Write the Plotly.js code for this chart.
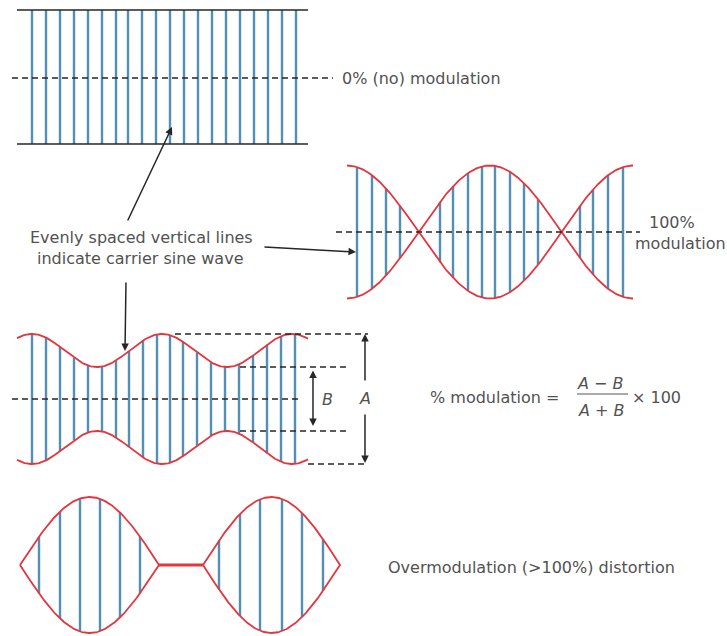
<!DOCTYPE html>
<html><head><meta charset="utf-8">
<script src="https://cdn.plot.ly/plotly-3.0.1.min.js"></script>
<style>html,body{margin:0;padding:0;background:#fff}</style>
</head><body>
<div id="chart" style="width:727px;height:636px"></div>
<script>
// ---------- data ----------
// Panel 1: unmodulated carrier (0%)
const unmodCarrierX = [32,46,60,74,88,102,116,128,142,156,170,184,198,212,226,240,254,268,282,296];
const unmodSpan = [17, 308];
const unmodLevels = [10, 78, 144];           // top, centre, bottom

// Panel 2: 100% modulation
const fullCarrierX = [357,372,386,400,440,453,468,482,495,510,524,538,580,593,608,623];
const fullSpan = [347, 633];
const fullEnvelope = [232, 66.5, 143];        // centre, peak amplitude, half period

// Panel 3: partial modulation, A and B
const partCarrierX = [32,46,60,74,88,102,116,129,143,157,170,183,197,211,225,239,253,267,281,295];
const partSpan = [17, 308];
const partEnvelope = [399, 65, 32, 32, 130]; // centre, A, B, x of a peak, period

// Panel 4: overmodulation
const overCarrierX = [39,60,80,100,120,140,219,240,260,282,302,323];
const overLobes = [[20,159],[203,340]];
const overEnvelope = [565, 68];               // centre, amplitude

// ---------- styles ----------
const FONT = 'DejaVu Sans';
const TXT = '#525252';
const RED = '#e2363f';
const BLUE = '#2c6d96';
const HALO = '#bcdcec';
const INK = '#262626';
const FS = 16;

// ---------- envelope helpers ----------
const fullEnv = x => fullEnvelope[1] * Math.cos(Math.PI * (x - fullSpan[0]) / fullEnvelope[2]);
const partEnv = x => {
  const [c, A, B, px, per] = partEnvelope;
  return (A + B) / 2 + (A - B) / 2 * Math.cos(2 * Math.PI * (x - px) / per);
};
const overEnv = (x, lobe) => overEnvelope[1] * Math.sin(Math.PI * (x - lobe[0]) / (lobe[1] - lobe[0]));

function range(a, b, step) { const r = []; for (let v = a; v <= b + 1e-9; v += step) r.push(v); if (r[r.length-1] < b) r.push(b); return r; }

// vertical carrier lines
const vx = [], vy = [];
function addV(x, y0, y1) { vx.push(x, x, null); vy.push(y0, y1, null); }
unmodCarrierX.forEach(x => addV(x, unmodLevels[0], unmodLevels[2]));
fullCarrierX.forEach(x => { const e = Math.abs(fullEnv(x)); addV(x, fullEnvelope[0] - e, fullEnvelope[0] + e); });
partCarrierX.forEach(x => { const e = partEnv(x); addV(x, partEnvelope[0] - e, partEnvelope[0] + e); });
overCarrierX.forEach(x => {
  const lobe = overLobes.find(l => x >= l[0] && x <= l[1]);
  const e = overEnv(x, lobe); addV(x, overEnvelope[0] - e, overEnvelope[0] + e);
});

const traces = [];
traces.push({x: vx, y: vy, mode: 'lines', line: {color: HALO, width: 3.2}, hoverinfo: 'skip'});
traces.push({x: vx, y: vy, mode: 'lines', line: {color: BLUE, width: 1.4}, hoverinfo: 'skip'});

// Panel 1 carrier boundaries
traces.push({x: [unmodSpan[0], unmodSpan[1], null, unmodSpan[0], unmodSpan[1]],
             y: [unmodLevels[0], unmodLevels[0], null, unmodLevels[2], unmodLevels[2]],
             mode: 'lines', line: {color: INK, width: 1.6}, hoverinfo: 'skip'});

// Panel 2 envelopes
const fx = range(fullSpan[0], fullSpan[1], 1);
traces.push({x: fx, y: fx.map(x => fullEnvelope[0] - fullEnv(x)), mode: 'lines', line: {color: RED, width: 1.8}, hoverinfo: 'skip'});
traces.push({x: fx, y: fx.map(x => fullEnvelope[0] + fullEnv(x)), mode: 'lines', line: {color: RED, width: 1.8}, hoverinfo: 'skip'});

// Panel 3 envelopes
const px = range(partSpan[0], partSpan[1], 1);
traces.push({x: px, y: px.map(x => partEnvelope[0] - partEnv(x)), mode: 'lines', line: {color: RED, width: 1.8}, hoverinfo: 'skip'});
traces.push({x: px, y: px.map(x => partEnvelope[0] + partEnv(x)), mode: 'lines', line: {color: RED, width: 1.8}, hoverinfo: 'skip'});

// Panel 4 lobes + flat part
overLobes.forEach(l => {
  const xs = range(l[0], l[1], 1);
  const up = xs.map(x => overEnvelope[0] - overEnv(x, l));
  const dn = xs.map(x => overEnvelope[0] + overEnv(x, l));
  traces.push({x: xs.concat(xs.slice().reverse()), y: up.concat(dn.slice().reverse()),
               mode: 'lines', line: {color: RED, width: 1.8}, hoverinfo: 'skip'});
});
traces.push({x: [overLobes[0][1], overLobes[1][0]], y: [overEnvelope[0], overEnvelope[0]],
             mode: 'lines', line: {color: RED, width: 3}, hoverinfo: 'skip'});

// ---------- dashed guide lines ----------
const dash = {color: INK, width: 1.3, dash: '6px,4px'};
const [pc, pA, pB] = partEnvelope;
const shapes = [
  {type: 'line', x0: 12, x1: 333, y0: unmodLevels[1], y1: unmodLevels[1], line: dash},
  {type: 'line', x0: 336, x1: 640, y0: fullEnvelope[0], y1: fullEnvelope[0], line: dash},
  {type: 'line', x0: 12, x1: 302, y0: pc, y1: pc, line: dash},
  {type: 'line', x0: 175, x1: 368, y0: pc - pA, y1: pc - pA, line: dash},
  {type: 'line', x0: 240, x1: 347, y0: pc - pB, y1: pc - pB, line: dash},
  {type: 'line', x0: 240, x1: 347, y0: pc + pB, y1: pc + pB, line: dash},
  {type: 'line', x0: 308, x1: 368, y0: pc + pA, y1: pc + pA, line: dash},
  {type: 'line', x0: 577, x1: 628, y0: 394, y1: 394, line: {color: '#555', width: 1}}
].map(s => Object.assign({xref: 'x', yref: 'y', layer: 'above'}, s));

// ---------- text + arrows ----------
function txt(t, x, y, xa, extra) {
  return Object.assign({text: t, x: x, y: y, xref: 'x', yref: 'y', xanchor: xa || 'center', yanchor: 'middle',
    showarrow: false, font: {family: FONT, size: FS, color: TXT}}, extra || {});
}
function arrow(hx, hy, tx, ty, both) {
  return {text: '', x: hx, y: hy, ax: tx, ay: ty, xref: 'x', yref: 'y', axref: 'x', ayref: 'y',
    showarrow: true, arrowhead: 2, startarrowhead: 2, arrowsize: 1, startarrowsize: 1, arrowwidth: 1.5,
    arrowcolor: INK, arrowside: both ? 'end+start' : 'end', standoff: 0, startstandoff: 0};
}
const annotations = [
  txt('0% (no) modulation', 340, 78, 'left'),
  txt('Evenly spaced vertical lines', 141, 237),
  txt('indicate carrier sine wave', 140, 258),
  txt('100%', 672, 222),
  txt('modulation', 680, 243),
  txt('<i>B</i>', 327, 399),
  txt('<i>A</i>', 365, 398),
  txt('% modulation =', 428, 397, 'left'),
  txt('<i>A</i> \u2212 <i>B</i>', 600, 383),
  txt('<i>A</i> + <i>B</i>', 601, 410),
  txt('\u00d7 100', 630, 397, 'left'),
  txt('Overmodulation (>100%) distortion', 386, 567, 'left'),
  arrow(172, 127, 127, 222),
  arrow(356, 252, 263, 247),
  arrow(125, 351, 126, 281),
  arrow(313, 426, 313, 369, true),
  arrow(365, 334, 365, 382),
  arrow(365, 463, 365, 413)
];

const layout = {
  width: 727, height: 636,
  margin: {l: 0, r: 0, t: 0, b: 0, pad: 0},
  paper_bgcolor: '#fff', plot_bgcolor: '#fff',
  showlegend: false,
  xaxis: {range: [0, 727], visible: false, fixedrange: true},
  yaxis: {range: [636, 0], visible: false, fixedrange: true},
  shapes: shapes,
  annotations: annotations,
  hovermode: false
};
Plotly.newPlot('chart', traces, layout, {staticPlot: true, displayModeBar: false});
</script>
</body></html>
